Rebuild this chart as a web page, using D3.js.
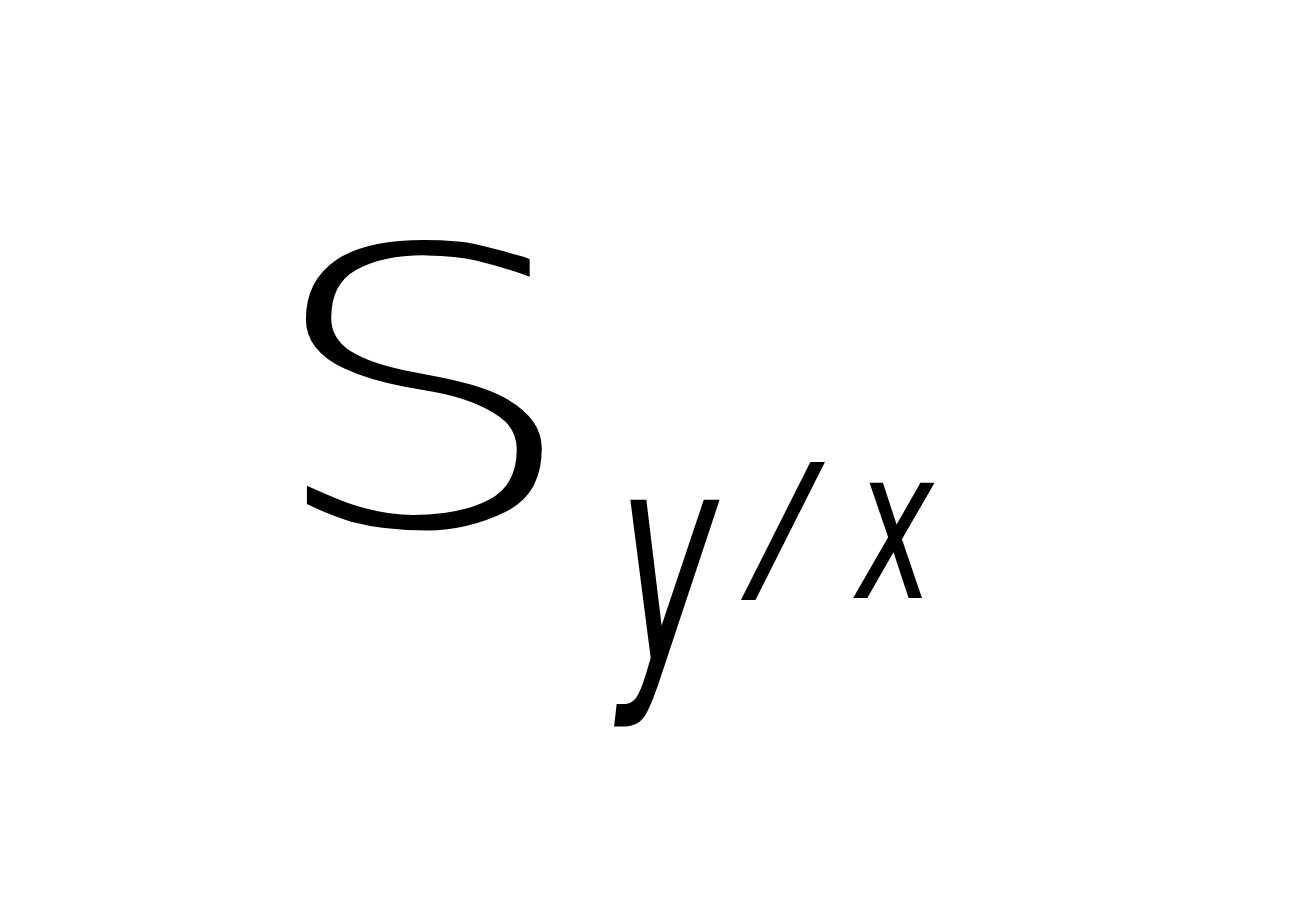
<!DOCTYPE html>
<html>
<head>
<meta charset="utf-8">
<script src="https://cdn.jsdelivr.net/npm/d3@7"></script>
<style>
  html, body { margin: 0; padding: 0; background: #fff; }
</style>
</head>
<body>
<div id="chart"></div>
<script>
// symbol glyphs
var mainGlyphs = ["S"];
var subGlyphs = ["y", "/", "x"];

var width = 1304;
var height = 899;

// hand-drawn look: stretch each glyph a bit (sx, sy, baseline)
var glyphShape = {
  S: [1.27, 0.96, 525],
  y: [0.8, 1.43, 664],
  "/": [0.8, 0.8, 584],
  x: [0.62, 1, 598]
};

var svg = d3
  .select("#chart")
  .append("svg")
  .attr("width", width)
  .attr("height", height)
  .style("display", "block");

svg.append("rect").attr("width", width).attr("height", height).attr("fill", "#fff");

/* main letter */
svg
  .selectAll(".main")
  .data(mainGlyphs)
  .enter()
  .append("text")
  .attr("class", "main")
  .attr("transform", (d) => {
    var s = glyphShape[d];
    return `translate(422, ${s[2]}) scale(${s[0]}, ${s[1]})`;
  })
  .attr("text-anchor", "middle")
  .style("font-family", "'DejaVu Sans', sans-serif")
  .style("font-weight", 200)
  .style("font-size", "400px")
  .attr("fill", "#000")
  .text((d) => d);

/* subscript, one glyph per slot */
var xSub = d3.scalePoint().domain(subGlyphs).range([668, 895]);

svg
  .selectAll(".sub")
  .data(subGlyphs)
  .enter()
  .append("text")
  .attr("class", "sub")
  .attr("transform", (d) => {
    var s = glyphShape[d];
    return `translate(${xSub(d)}, ${s[2]}) scale(${s[0]}, ${s[1]})`;
  })
  .attr("text-anchor", "middle")
  .style("font-family", "'DejaVu Sans', sans-serif")
  .style("font-weight", 200)
  .style("font-style", "italic")
  .style("font-size", "210px")
  .attr("fill", "#000")
  .text((d) => d);
</script>
</body>
</html>
